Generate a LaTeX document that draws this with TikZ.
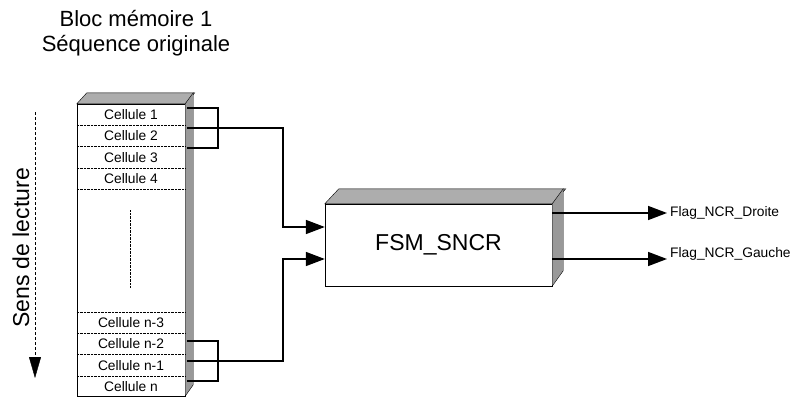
\documentclass[tikz,border=0pt]{standalone}
\usepackage{fontspec}
\setmainfont{Liberation Sans}
\usetikzlibrary{arrows.meta,positioning}
\definecolor{memside}{gray}{0.6}
\definecolor{memtop}{gray}{0.68}
\tikzset{
  cellbox/.style={minimum width=108pt, minimum height=21pt, inner sep=0pt, font=\fontsize{13.8}{15}\selectfont},
  celldiv/.style={densely dotted, thin},
  frontface/.style={draw, thin, fill=white, inner sep=0pt},
  sideface/.style={draw, thin, fill=memside},
  topface/.style={draw, thin, fill=memtop},
  wire/.style={line width=1.6pt},
  wirearr/.style={-{Triangle[length=19pt, width=14pt]}, line width=1.6pt},
  flaglabel/.style={anchor=west, inner sep=0pt, font=\fontsize{13.8}{15}\selectfont},
  readarr/.style={-{Triangle[length=21pt, width=12pt]}, densely dashed, thin}
}

\begin{document}
\begin{tikzpicture}[x=1pt, y=-1pt]
  \useasboundingbox (0,0) rectangle (800,396);
  % memory block
  \node[align=center, font=\fontsize{22}{25}\selectfont] (title) at (136,33) {Bloc mémoire 1\\Séquence originale};
  \node[frontface, minimum width=108pt, minimum height=292pt] (mem) at (131,250) {};
  \draw[topface] (mem.north west) -- ++(10,-11) -- ++(108,0) -- (mem.north east) -- cycle;
  \draw[sideface] (mem.north east) -- ++(8,-11) -- ++(0,292) -- (mem.south east) -- cycle;
  \node[cellbox] (c1) at (131,114.5) {Cellule 1};
  \node[cellbox, below=0pt of c1] (c2) {Cellule 2};
  \node[cellbox, below=0pt of c2] (c3) {Cellule 3};
  \node[cellbox, below=0pt of c3] (c4) {Cellule 4};
  \node[cellbox] (cn3) at (131,322.5) {Cellule n-3};
  \node[cellbox, below=0pt of cn3] (cn2) {Cellule n-2};
  \node[cellbox, below=0pt of cn2] (cn1) {Cellule n-1};
  \node[cellbox, below=0pt of cn1] (cn) {Cellule n};
  \foreach \c in {c1,c2,c3,c4,cn3,cn2,cn1}
    \draw[celldiv] (\c.south west) -- (\c.south east);
  \draw[celldiv] (cn3.north west) -- (cn3.north east);
  \draw[celldiv] (130,210) -- (130,288);
  % reading direction
  \node[rotate=90, font=\fontsize{23}{26}\selectfont] (sens) at (21,248) {Sens de lecture};
  \coordinate (rtop) at (35,112);
  \coordinate (rbot) at (35,378);
  \draw[readarr] (rtop) -- (rbot);
  % FSM block
  \node[frontface, minimum width=227pt, minimum height=82pt, font=\fontsize{23}{26}\selectfont] (fsm) at (438.5,245) {FSM\_SNCR};
  \draw[topface] (fsm.north west) -- ++(14,-15) -- ++(227,0) -- (fsm.north east) -- cycle;
  \draw[sideface] (fsm.north east) -- ++(11,-15) -- ++(0,82) -- (fsm.south east) -- cycle;
  % cell pairs
  \coordinate (ta) at (187,108);
  \coordinate (tb) at (187,128);
  \coordinate (tc) at (187,148);
  \coordinate (ba) at (187,341);
  \coordinate (bb) at (187,361);
  \coordinate (bc) at (187,381);
  \draw[wire] (ta) -- (218,108) -- (218,148) -- (tc);
  \draw[wire] (ba) -- (218,341) -- (218,381) -- (bc);
  \draw[wirearr] (tb) -- (283,128) |- ([yshift=18pt]fsm.west);
  \draw[wirearr] (bb) -- (283,361) |- ([yshift=-14pt]fsm.west);
  % outputs
  \node[flaglabel] (flagd) at (670,213) {Flag\_NCR\_Droite};
  \node[flaglabel] (flagg) at (670,254) {Flag\_NCR\_Gauche};
  \draw[wirearr] ([yshift=32pt]fsm.east) -- ([xshift=-3pt]flagd.west);
  \draw[wirearr] ([yshift=-14pt]fsm.east) -- ([xshift=-3pt, yshift=-5pt]flagg.west);
\end{tikzpicture}
\end{document}
